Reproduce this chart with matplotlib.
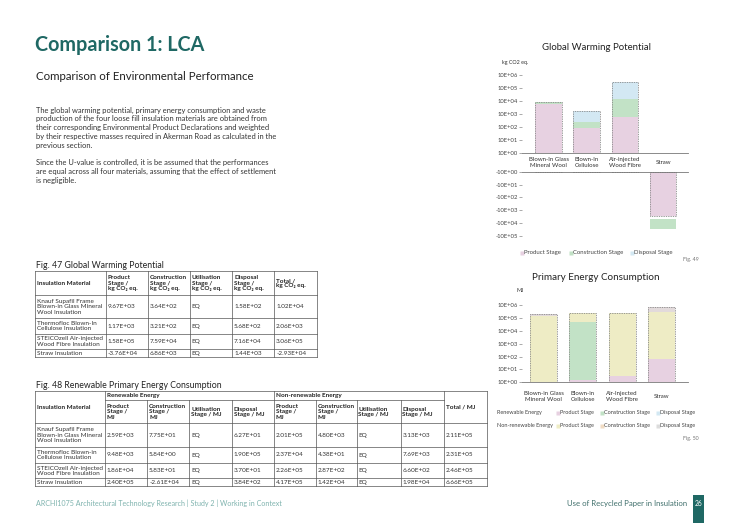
import numpy as np
import matplotlib.pyplot as plt

plt.rcParams['font.family'] = ['Lato', 'DejaVu Sans']

W, H = 740, 523

# ---------------- chart data (bar tops in decades of the log axes) ----------------
gwp_categories = ['Blown-In Glass\nMineral Wool', 'Blown-In\nCellulose', 'Air-injected\nWood Fibre', 'Straw']
gwp_product = [3.80, 1.90, 2.75, -3.45]
gwp_construction = [3.95, 2.40, 4.15, -4.45]
gwp_disposal = [3.95, 3.25, 5.44, -4.45]
gwp_total = [3.95, 3.25, 5.44, -3.45]
gwp_gap = [0.0, 0.0, 0.0, -0.20]
gwp_pos_ticks = ['10E+00', '10E+01', '10E+02', '10E+03', '10E+04', '10E+05', '10E+06']
gwp_neg_ticks = ['-10E+00', '-10E+01', '-10E+02', '-10E+03', '-10E+04', '-10E+05']

pe_categories = ['Blown-in Glass\nMineral Wool', 'Blown-in\nCellulose', 'Air-Injected\nWood Fibre', 'Straw']
pe_pink_top = [0.00, 0.20, 0.50, 1.82]
pe_green_top = [0.00, 4.69, 0.50, 1.82]
pe_yellow_top = [5.15, 5.39, 5.39, 5.50]
pe_total = [5.30, 5.39, 5.39, 5.85]
pe_ticks = ['10E+00', '10E+01', '10E+02', '10E+03', '10E+04', '10E+05', '10E+06']

# ---------------- table data ----------------
t1_header = ['Insulation Material', 'Product\nStage /\nkg CO\u2082 eq.', 'Construction\nStage /\nkg CO\u2082 eq.',
             'Utilisation\nStage /\nkg CO\u2082 eq.', 'Disposal\nStage /\nkg CO\u2082 eq.', 'Total /\nkg CO\u2082 eq.']
t1_materials = ['Knauf Supafil Frame\nBlown-in Glass Mineral\nWool Insulation', 'Thermofloc Blown-In\nCellulose Insulation',
                'STEICOzell Air-injected\nWood Fibre Insulation', 'Straw Insulation']
t1_product = ['9.67E+03', '1.17E+03', '1.58E+05', '-3.76E+04']
t1_construction = ['3.64E+02', '3.21E+02', '7.59E+04', '6.86E+03']
t1_utilisation = ['EQ', 'EQ', 'EQ', 'EQ']
t1_disposal = ['1.58E+02', '5.68E+02', '7.16E+04', '1.44E+03']
t1_total = ['1.02E+04', '2.06E+03', '3.06E+05', '-2.93E+04']

t2_groups = ['Renewable Energy', 'Non-renewable Energy']
t2_header = ['Product\nStage /\nMJ', 'Construction\nStage /\nMJ', 'Utilisation\nStage / MJ', 'Disposal\nStage / MJ']
t2_materials = ['Knauf Supafil Frame\nBlown-in Glass Mineral\nWool Insulation', 'Thermofloc Blown-in\nCellulose Insulation',
                'STEICOzell Air-injected\nWood Fibre Insulation', 'Straw Insulation']
re_product = ['2.59E+03', '9.48E+03', '1.86E+04', '2.40E+05']
re_construction = ['7.75E+01', '5.84E+00', '5.83E+01', '-2.61E+04']
re_utilisation = ['EQ', 'EQ', 'EQ', 'EQ']
re_disposal = ['6.27E+01', '1.90E+05', '3.70E+01', '3.84E+02']
nre_product = ['2.01E+05', '2.37E+04', '2.26E+05', '4.17E+05']
nre_construction = ['4.80E+03', '4.38E+01', '2.87E+02', '1.42E+04']
nre_utilisation = ['EQ', 'EQ', 'EQ', 'EQ']
nre_disposal = ['3.13E+03', '7.69E+03', '6.60E+02', '1.98E+04']
t2_total = ['2.11E+05', '2.31E+05', '2.46E+05', '6.66E+05']

# colours
teal = '#1f6864'
pink = '#e7d1e1'
green = '#c2e2c6'
blue = '#d3e8f3'
yellow = '#eeecc5'
strip = '#e2dadb'
txt = '#333333'


def fbox(x0, y0, x1, y1):
    # pixel box (top-left origin) -> figure fraction
    return [x0 / W, 1 - y1 / H, (x1 - x0) / W, (y1 - y0) / H]


fig = plt.figure(figsize=(7.4, 5.23), dpi=100)
page = fig.add_axes([0, 0, 1, 1])
page.set_xlim(0, W)
page.set_ylim(H, 0)
page.axis('off')

# ---------------- left column text ----------------
page.text(35, 45, 'Comparison 1: LCA', fontsize=14.2, fontweight='bold', color=teal, va='center')
page.text(36, 77, 'Comparison of Environmental Performance', fontsize=8.3, color='#222222', va='center')
para1 = ['The global warming potential, primary energy consumption and waste',
         'production of the four loose fill insulation materials are obtained from',
         'their corresponding Environmental Product Declarations and weighted',
         'by their respective masses required in Akerman Road as calculated in the',
         'previous section.']
para2 = ['Since the U-value is controlled, it is be assumed that the performances',
         'are equal across all four materials, assuming that the effect of settlement',
         'is negligible.']
for k, line in enumerate(para1):
    page.text(36, 110 + 8.95 * k, line, fontsize=5.45, color=txt, va='center')
for k, line in enumerate(para2):
    page.text(36, 162.5 + 8.95 * k, line, fontsize=5.45, color=txt, va='center')

page.text(36, 266, 'Fig. 47 Global Warming Potential', fontsize=6.3, color='#222222', va='center')
page.text(36, 385, 'Fig. 48 Renewable Primary Energy Consumption', fontsize=6.3, color='#222222', va='center')


def cell(x0, y0, x1, y1, s, bold=False):
    page.text(x0 + 1.8, (y0 + y1) / 2 + 0.3, s, fontsize=4.6, va='center', ha='left',
              fontweight='bold' if bold else 'normal', color='#222222' if bold else txt,
              linespacing=1.1)


def hline(y, x0, x1):
    page.plot([x0, x1], [y, y], color='#555555', lw=0.5)


def vline(x, y0, y1):
    page.plot([x, x], [y0, y1], color='#555555', lw=0.5)


# ---------------- table 1 ----------------
c1 = [35, 106, 148.3, 190, 232.3, 274.3, 317.3]
r1 = [271, 295, 318, 333.5, 349, 356.7]
for y in r1:
    hline(y, c1[0], c1[-1])
for x in c1:
    vline(x, r1[0], r1[-1])
for j, s in enumerate(t1_header):
    cell(c1[j], r1[0], c1[j + 1], r1[1], s, bold=True)
t1_cols = [t1_materials, t1_product, t1_construction, t1_utilisation, t1_disposal, t1_total]
for j, col in enumerate(t1_cols):
    for i, s in enumerate(col):
        cell(c1[j], r1[i + 1], c1[j + 1], r1[i + 2], s)

# ---------------- table 2 ----------------
c2 = [35, 105, 147.3, 189.3, 231.7, 274, 316, 356.7, 400.7, 444.3, 486.7]
r2 = [391, 400, 423.3, 446.7, 462.7, 478.3, 485.7]
hline(r2[0], c2[0], c2[-1])
hline(r2[1], c2[1], c2[-2])
for y in r2[2:]:
    hline(y, c2[0], c2[-1])
for x in [c2[0], c2[1], c2[5], c2[9], c2[10]]:
    vline(x, r2[0], r2[-1])
for x in [c2[2], c2[3], c2[4], c2[6], c2[7], c2[8]]:
    vline(x, r2[1], r2[-1])
cell(c2[0], r2[0], c2[1], r2[2], 'Insulation Material', bold=True)
cell(c2[1], r2[0], c2[5], r2[1], t2_groups[0], bold=True)
cell(c2[5], r2[0], c2[9], r2[1], t2_groups[1], bold=True)
cell(c2[9], r2[0], c2[10], r2[2], 'Total / MJ', bold=True)
for j, s in enumerate(t2_header + t2_header):
    cell(c2[j + 1], r2[1], c2[j + 2], r2[2], s, bold=True)
t2_cols = [t2_materials, re_product, re_construction, re_utilisation, re_disposal,
           nre_product, nre_construction, nre_utilisation, nre_disposal, t2_total]
for j, col in enumerate(t2_cols):
    for i, s in enumerate(col):
        cell(c2[j], r2[i + 2], c2[j + 1], r2[i + 3], s)

# ---------------- footer ----------------
page.text(36, 503.5, 'ARCHI1075 Architectural Technology Research | Study 2 | Working in Context',
          fontsize=5.1, color='#7fb3ae', va='center')
page.text(687, 503.5, 'Use of Recycled Paper in Insulation', fontsize=5.55, color='#3f6f6b', va='center', ha='right')
page.add_patch(plt.Rectangle((693, 495), 10.5, 28, color=teal, lw=0))
page.text(698.2, 503.5, '26', fontsize=4.8, color='white', va='center', ha='center')


def style_axis(ax, spine):
    for s in ax.spines.values():
        s.set_visible(False)
    ax.spines[spine].set_visible(True)
    ax.spines[spine].set_color('#777777')
    ax.spines[spine].set_linewidth(0.6)
    ax.set_xticks([])
    ax.tick_params(axis='y', length=2.2, width=0.5, color='#888888', labelsize=4.2,
                   labelcolor='#444444', pad=1)
    ax.patch.set_alpha(0)


def seg(ax, x, bottom, top, color, width):
    b = np.array(bottom, dtype=float)
    t = np.array(top, dtype=float)
    ax.bar(x, t - b, bottom=b, width=width, color=color, lw=0)


# ---------------- Global Warming Potential chart ----------------
gx = np.arange(len(gwp_categories))
ax_up = fig.add_axes(fbox(522, 153 - 6.6 * 13, 688, 153))
ax_dn = fig.add_axes(fbox(522, 171.7, 688, 171.7 + 5.6 * 12.9))
for ax in (ax_up, ax_dn):
    ax.set_xlim(-0.694, 3.652)
ax_up.set_ylim(0, 6.6)
ax_dn.set_ylim(-5.6, 0)

zero = np.zeros(len(gx))
prod = np.array(gwp_product)
cons_bottom = prod + np.array(gwp_gap)
for ax in (ax_up, ax_dn):
    seg(ax, gx, zero, prod, pink, 0.7)
    seg(ax, gx, cons_bottom, gwp_construction, green, 0.7)
    seg(ax, gx, gwp_construction, gwp_disposal, blue, 0.7)
    ax.bar(gx, gwp_total, width=0.7, fill=False, edgecolor='#8a8a8a', lw=0.6, linestyle=(0, (1.6, 1.2)))
style_axis(ax_up, 'bottom')
style_axis(ax_dn, 'top')
ax_up.set_yticks(range(len(gwp_pos_ticks)), gwp_pos_ticks)
ax_dn.set_yticks([-i for i in range(len(gwp_neg_ticks))], gwp_neg_ticks)
for i, lab in enumerate(gwp_categories):
    ax_up.annotate(lab, xy=(gx[i], 0), xycoords=('data', 'axes fraction'), xytext=(0, -6.9),
                   textcoords='offset points', ha='center', va='center', fontsize=4.4,
                   color='#333333', linespacing=1.2)

page.text(596, 47.3, 'Global Warming Potential', fontsize=6.9, color='#222222', ha='center', va='center')
page.text(515, 62.3, 'kg CO2 eq.', fontsize=3.9, color='#333333', ha='center', va='center')

gwp_legend = [('Product Stage', pink, 522.3), ('Construction Stage', green, 570.7), ('Disposal Stage', blue, 632.3)]
for name, col, x in gwp_legend:
    page.plot(x, 252.7, 's', ms=2.4, color=col, mec='none')
    page.text(x + 2.0, 252.7, name, fontsize=4.3, color='#444444', va='center')
page.text(691, 260, 'Fig. 49', fontsize=3.8, color='#777777', va='center', ha='center')

# ---------------- Primary Energy Consumption chart ----------------
px = np.arange(len(pe_categories))
ax_pe = fig.add_axes(fbox(522, 382.3 - 6.5 * 12.85, 688, 382.3))
ax_pe.set_xlim(-0.547, 3.677)
ax_pe.set_ylim(0, 6.5)
zero = np.zeros(len(px))
seg(ax_pe, px, zero, pe_pink_top, pink, 0.69)
seg(ax_pe, px, pe_pink_top, pe_green_top, green, 0.69)
seg(ax_pe, px, pe_green_top, pe_yellow_top, yellow, 0.69)
seg(ax_pe, px, pe_yellow_top, pe_total, strip, 0.69)
ax_pe.bar(px, pe_total, width=0.69, fill=False, edgecolor='#8a8a8a', lw=0.6, linestyle=(0, (1.6, 1.2)))
style_axis(ax_pe, 'bottom')
ax_pe.set_yticks(range(len(pe_ticks)), pe_ticks)
for i, lab in enumerate(pe_categories):
    ax_pe.annotate(lab, xy=(px[i], 0), xycoords=('data', 'axes fraction'), xytext=(0, -10),
                   textcoords='offset points', ha='center', va='center', fontsize=4.4,
                   color='#333333', linespacing=1.25)

page.text(596, 277.7, 'Primary Energy Consumption', fontsize=7.1, color='#222222', ha='center', va='center')
page.text(520, 290, 'MJ', fontsize=4.0, color='#333333', ha='center', va='center')

pe_legend_rows = [('Renewable Energy', 412.7, [pink, green, blue]),
                  ('Non-renewable Energy', 426, [yellow, '#f1dcc4', '#dcdcdc'])]
stage_names = ['Product Stage', 'Construction Stage', 'Disposal Stage']
for row_name, y, cols in pe_legend_rows:
    page.text(497, y, row_name, fontsize=4.0, color='#444444', va='center')
    for name, col, x in zip(stage_names, cols, [557.8, 601.7, 657.5]):
        page.plot(x, y, 's', ms=2.4, color=col, mec='none')
        page.text(x + 2.0, y, name, fontsize=4.0, color='#444444', va='center')
page.text(691, 438.3, 'Fig. 50', fontsize=3.8, color='#777777', va='center', ha='center')

fig.savefig('out.png', dpi=100)
